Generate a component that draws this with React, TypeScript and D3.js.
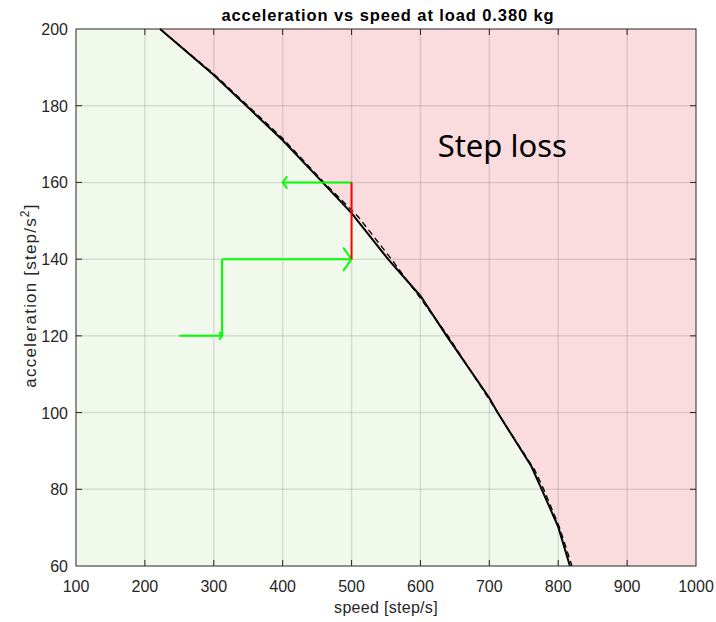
import React from 'react'
import * as d3 from 'd3'

// boundary between "ok" and "step loss" (measured)
const speedMeasured = [222, 300, 400, 458, 500, 553, 600, 638, 700, 712, 761, 776, 800, 817]
const accelMeasured = [200, 188, 171, 160, 152, 140, 130.4, 120, 103.8, 100, 86, 80, 70.2, 60]

// fitted boundary (dashed)
const speedFit = [222, 300, 400, 460, 510, 560, 640, 712, 766, 779, 802, 820]
const accelFit = [200, 188.3, 171.5, 160, 151, 139.5, 120, 100, 85, 80, 70, 60]

// ramp path drawn as arrows: start, delta
const arrowX = [250, 312, 500]
const arrowY = [120, 140, 160]
const arrowU = [62, 188, -100]
const arrowV = [0, 0, 0]
const arrowColor = ['#00ff00', '#00ff00', '#00ff00']

// red jump at 500 step/s
const jumpSpeed = [500, 500]
const jumpAccel = [140, 160]

const xTicks = [100, 200, 300, 400, 500, 600, 700, 800, 900, 1000]
const yTicks = [60, 80, 100, 120, 140, 160, 180, 200]

const W = 716
const H = 622
const left = 76
const right = 696
const top = 29
const bottom = 566
const axisColor = '#262626'
const font = '"Liberation Sans", Arial, sans-serif'

const App = () => {
  const x = d3.scaleLinear().domain([100, 1000]).range([left, right])
  const y = d3.scaleLinear().domain([60, 200]).range([bottom, top])

  const measured = speedMeasured.map((s, i) => [s, accelMeasured[i]] as [number, number])
  const fit = speedFit.map((s, i) => [s, accelFit[i]] as [number, number])

  const line = d3.line<[number, number]>().x(d => x(d[0])).y(d => y(d[1]))

  const greenPoly: [number, number][] = [[100, 200], ...measured, [100, 60]]
  const pinkPoly: [number, number][] = [...measured, [1000, 60], [1000, 200]]

  const arrows = arrowX.map((ax, i) => {
    const x0 = x(ax), y0 = y(arrowY[i])
    const x1 = x(ax + arrowU[i]), y1 = y(arrowY[i] + arrowV[i])
    const len = Math.hypot(x1 - x0, y1 - y0)
    const ux = (x1 - x0) / len, uy = (y1 - y0) / len
    const back = len * 0.065, half = len * 0.09
    const bx = x1 - ux * back, by = y1 - uy * back
    const head = `M${bx - uy * half},${by + ux * half}L${x1},${y1}L${bx + uy * half},${by - ux * half}`
    return { x0, y0, x1, y1, head, color: arrowColor[i] }
  })

  // vertical connector between first and second arrow
  const connector = line([[arrowX[1], arrowY[0]], [arrowX[1], arrowY[1]]])

  return (
    <svg width={W} height={H} style={{ position: 'absolute', left: 0, top: 0, background: '#fff' }}>
      <path d={line(greenPoly) + 'Z'} fill="#f0f9eb" />
      <path d={line(pinkPoly) + 'Z'} fill="#fadcde" />

      <g stroke={axisColor} strokeOpacity={0.13} strokeWidth={1.5}>
        {xTicks.slice(1, -1).map(t => (
          <line key={'gx' + t} x1={x(t)} x2={x(t)} y1={top} y2={bottom} />
        ))}
        {yTicks.slice(1, -1).map(t => (
          <line key={'gy' + t} x1={left} x2={right} y1={y(t)} y2={y(t)} />
        ))}
      </g>

      <path d={line(fit)!} fill="none" stroke="#000" strokeWidth={1.3} strokeDasharray="6,4" />
      <path d={line(measured)!} fill="none" stroke="#000" strokeWidth={2} />

      <g fill="none" strokeWidth={2}>
        <path d={connector!} stroke="#00ff00" />
        {arrows.map((a, i) => (
          <g key={i} stroke={a.color}>
            <line x1={a.x0} y1={a.y0} x2={a.x1} y2={a.y1} />
            <path d={a.head} />
          </g>
        ))}
        <path d={line(jumpSpeed.map((s, i) => [s, jumpAccel[i]] as [number, number]))!} stroke="#ff0000" />
      </g>

      <text x={x(625)} y={y(166.5)} fontFamily='"Noto Sans", "Open Sans", sans-serif' fontSize={31} fill="#000">Step loss</text>

      <rect x={left} y={top} width={right - left} height={bottom - top} fill="none" stroke={axisColor} strokeWidth={1} />
      <g stroke={axisColor} strokeWidth={1}>
        {xTicks.slice(1, -1).map(t => (
          <g key={'tx' + t}>
            <line x1={x(t)} x2={x(t)} y1={bottom} y2={bottom - 6} />
            <line x1={x(t)} x2={x(t)} y1={top} y2={top + 6} />
          </g>
        ))}
        {yTicks.slice(1, -1).map(t => (
          <g key={'ty' + t}>
            <line x1={left} x2={left + 6} y1={y(t)} y2={y(t)} />
            <line x1={right} x2={right - 6} y1={y(t)} y2={y(t)} />
          </g>
        ))}
      </g>

      <g fontFamily={font} fontSize={16} fill={axisColor}>
        {xTicks.map(t => (
          <text key={'lx' + t} x={x(t)} y={592} textAnchor="middle">{t}</text>
        ))}
        {yTicks.map(t => (
          <text key={'ly' + t} x={68} y={y(t) + 6} textAnchor="end">{t}</text>
        ))}
        <text x={(left + right) / 2} y={613} textAnchor="middle" letterSpacing={0.3}>speed [step/s]</text>
        <text transform={`translate(36,${(top + bottom) / 2 - 2}) rotate(-90)`} textAnchor="middle" fontSize={17} letterSpacing={1.2}>
          acceleration [step/s<tspan dy={-7} fontSize={12}>2</tspan><tspan dy={7}>]</tspan>
        </text>
      </g>

      <text x={(left + right) / 2 + 2} y={21} textAnchor="middle" fontFamily={font} fontSize={16.5} fontWeight="bold" letterSpacing={0.9} fill="#000">
        acceleration vs speed at load 0.380 kg
      </text>
    </svg>
  )
}

export default App
